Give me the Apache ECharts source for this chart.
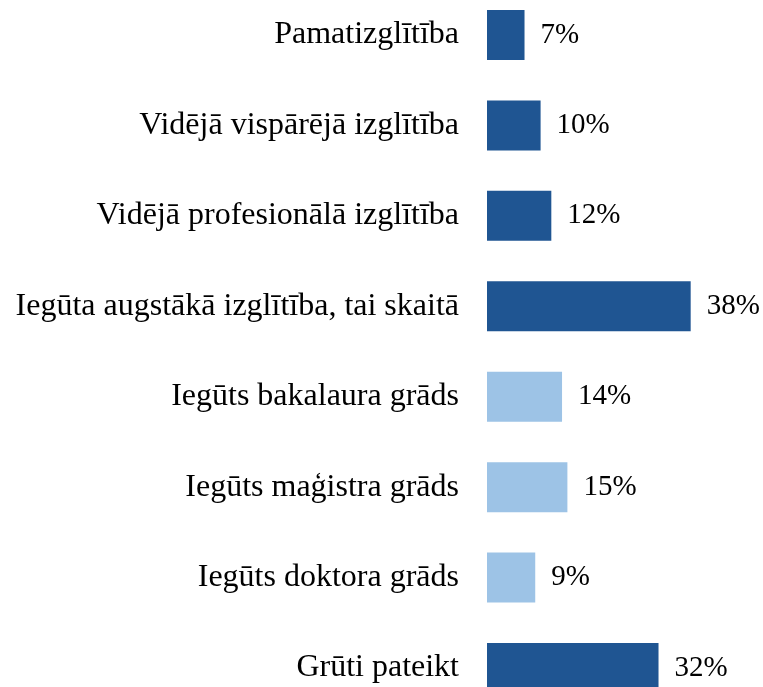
<!DOCTYPE html>
<html>
<head>
<meta charset="utf-8">
<script src="https://cdn.jsdelivr.net/npm/echarts@6/dist/echarts.min.js"></script>
<style>
  html, body { margin: 0; padding: 0; background: #fff; }
  #chart { width: 763px; height: 687px; }
</style>
</head>
<body>
<div id="chart"></div>
<script>
const categories = [
  'Pamatizglītība',
  'Vidējā vispārējā izglītība',
  'Vidējā profesionālā izglītība',
  'Iegūta augstākā izglītība, tai skaitā',
  'Iegūts bakalaura grāds',
  'Iegūts maģistra grāds',
  'Iegūts doktora grāds',
  'Grūti pateikt'
];
const values = [7, 10, 12, 38, 14, 15, 9, 32];
// rows that break down higher education (drawn lighter)
const subRows = [4, 5, 6];

const darkBlue = '#1F5592';
const lightBlue = '#9DC3E6';
const font = '"Liberation Serif", "Times New Roman", serif';

const chart = echarts.init(document.getElementById('chart'), null, { renderer: 'canvas' });

// boundaryGap off: first and last category sit on the grid edges,
// the last bar runs past the bottom of the canvas like in the source
const option = {
  animation: false,
  backgroundColor: '#fff',
  grid: { left: 487, right: 8, top: 35, bottom: 19 },
  xAxis: {
    type: 'value',
    min: 0,
    max: 50,
    show: false,
    splitLine: { show: false }
  },
  yAxis: {
    type: 'category',
    inverse: true,
    boundaryGap: false,
    data: categories,
    axisLine: { show: false },
    axisTick: { show: false },
    splitLine: { show: false },
    axisLabel: {
      margin: 28,
      fontSize: 32,
      color: '#000',
      fontFamily: font
    }
  },
  series: [
    {
      type: 'bar',
      data: values,
      barWidth: 50,
      itemStyle: {
        color: p => subRows.includes(p.dataIndex) ? lightBlue : darkBlue
      },
      label: {
        show: true,
        position: 'right',
        distance: 16,
        formatter: p => p.value + '%',
        fontSize: 29,
        color: '#000',
        fontFamily: font
      }
    }
  ]
};
chart.setOption(option);
</script>
</body>
</html>
